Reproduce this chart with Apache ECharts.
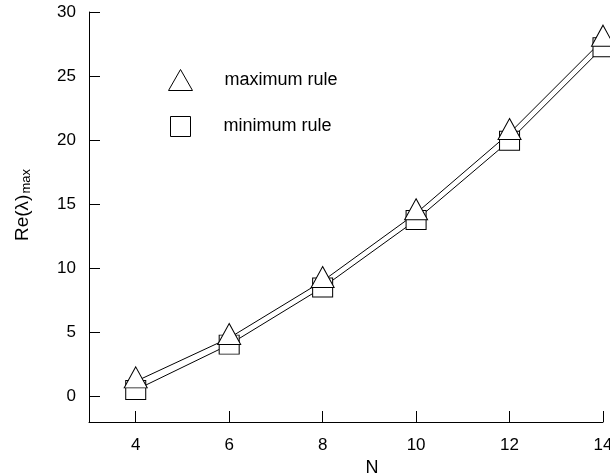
<!DOCTYPE html>
<html><head><meta charset="utf-8">
<script src="https://cdn.jsdelivr.net/npm/echarts@6/dist/echarts.min.js"></script>
<style>html,body{margin:0;padding:0;background:#fff}#c{width:610px;height:476px}</style>
</head><body><div id="c"></div>
<script>
const N = [4, 6, 8, 10, 12, 14];
const maxRule = [1.17, 4.56, 9.0, 14.29, 20.55, 27.84];
const minRule = [0.5, 4.04, 8.5, 13.76, 19.95, 27.25];
const xTicks = [4, 6, 8, 10, 12, 14];
const yTicks = [0, 5, 10, 15, 20, 25, 30];

const FONT = "'Liberation Sans', Arial, Helvetica, sans-serif";
const chart = echarts.init(document.getElementById('c'), null, {renderer: 'canvas'});
const axisCommon = {
  axisLine: {show: true, onZero: false, lineStyle: {color: '#000', width: 1}},
  axisTick: {show: true, inside: true, length: 11, lineStyle: {color: '#000', width: 1}},
  splitLine: {show: false},
  axisLabel: {color: '#000', fontSize: 17, fontFamily: FONT}
};
chart.setOption({
  animation: false,
  backgroundColor: '#fff',
  textStyle: {fontFamily: FONT},
  grid: {left: 89, right: 7, top: 12, bottom: 54, containLabel: false, outerBoundsMode: 'none'},
  legend: [
    {data: [{name: 'maximum rule', icon: 'triangle'}], left: 168, top: 69, itemWidth: 24, itemHeight: 21,
     selectedMode: false, orient: 'vertical', padding: 0,
     itemStyle: {color: '#fff', borderColor: '#000', borderWidth: 1},
     textStyle: {fontSize: 18, color: '#000', fontFamily: FONT, padding: [3, 0, 0, 27]}},
    {data: [{name: 'minimum rule', icon: 'rect'}], left: 170, top: 116, itemWidth: 20, itemHeight: 20,
     selectedMode: false, orient: 'vertical', padding: 0,
     itemStyle: {color: '#fff', borderColor: '#000', borderWidth: 1},
     textStyle: {fontSize: 18, color: '#000', fontFamily: FONT, padding: [2, 0, 0, 28]}}
  ],
  xAxis: Object.assign({}, axisCommon, {
    type: 'value', min: 3, max: 14,
    name: 'N', nameLocation: 'middle', nameGap: 34,
    nameTextStyle: {fontSize: 18, color: '#000', fontFamily: FONT, padding: [0, 0, 0, 52]},
    axisTick: Object.assign({}, axisCommon.axisTick, {customValues: xTicks}),
    axisLabel: Object.assign({}, axisCommon.axisLabel, {customValues: xTicks, margin: 15})
  }),
  yAxis: Object.assign({}, axisCommon, {
    type: 'value', min: -2, max: 30,
    name: '{a|Re(λ)}{b|max}', nameLocation: 'middle', nameRotate: 90, nameGap: 56,
    nameTextStyle: {color: '#000', fontFamily: FONT, padding: [0, 0, 0, 24],
      rich: {a: {fontSize: 19, fontFamily: FONT, color: '#000'},
             b: {fontSize: 13, fontFamily: FONT, color: '#000', padding: [8, 0, 0, 1]}}},
    axisTick: Object.assign({}, axisCommon.axisTick, {customValues: yTicks}),
    axisLabel: Object.assign({}, axisCommon.axisLabel, {customValues: yTicks, margin: 13})
  }),
  series: [
    {name: 'minimum rule', type: 'line', data: N.map((n, i) => [n, minRule[i]]),
     symbol: 'rect', symbolSize: [20, 19], clip: false,
     lineStyle: {color: '#000', width: 1},
     itemStyle: {color: '#fff', borderColor: '#000', borderWidth: 1}},
    {name: 'maximum rule', type: 'line', data: N.map((n, i) => [n, maxRule[i]]),
     symbol: 'triangle', symbolSize: [23, 21], symbolOffset: [0, -4], clip: false,
     lineStyle: {color: '#000', width: 1},
     itemStyle: {color: '#fff', borderColor: '#000', borderWidth: 1}}
  ]
});
</script></body></html>
